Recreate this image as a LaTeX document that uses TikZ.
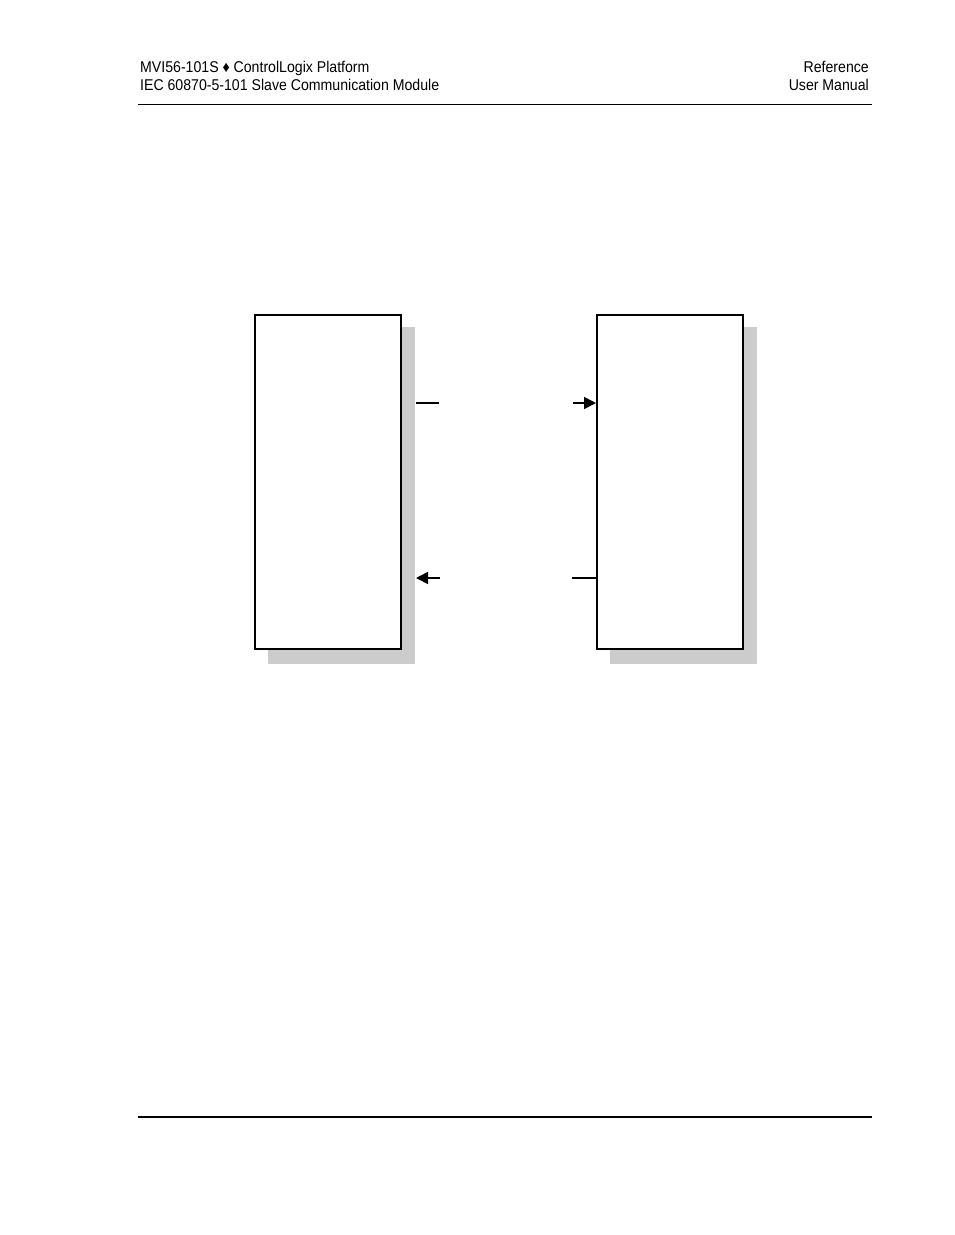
\documentclass[tikz,border=0pt]{standalone}
\usepackage{fontspec}
\setmainfont{Liberation Sans}[FakeStretch=0.905]
\usetikzlibrary{arrows.meta}
\definecolor{shade}{HTML}{CCCCCC}
\begin{document}
\begin{tikzpicture}[x=1pt,y=-1pt,
  hdr/.style={inner sep=0pt,font=\fontsize{15.6}{18}\selectfont},
  modbox/.style={draw=black,line width=2pt,fill=white,minimum width=146pt,minimum height=334pt,inner sep=0pt,anchor=north west},
  shadowbox/.style={fill=shade,draw=none,minimum width=147pt,minimum height=337pt,inner sep=0pt,anchor=north west},
  stub/.style={line width=1.6pt},
  tip/.style={line width=1.6pt,-{Triangle[length=12pt,width=12pt]}}]
\useasboundingbox (0,0) rectangle (954,1235);
% header
\node[hdr,anchor=base west] (h1) at (140,72) {MVI56-101S ♦ ControlLogix Platform};
\node[hdr,anchor=base west] (h2) at (140,90) {IEC 60870-5-101 Slave Communication Module};
\node[hdr,anchor=base east] (h3) at (869,72) {Reference};
\node[hdr,anchor=base east] (h4) at (869,90) {User Manual};
\coordinate (hl1) at (138,104.5);
\coordinate (hl2) at (872,104.5);
\draw[line width=1.2pt] (hl1) -- (hl2);
\coordinate (fl1) at (138,1117);
\coordinate (fl2) at (872,1117);
\draw[line width=1.2pt] (fl1) -- (fl2);
% boxes
\node[shadowbox] (ls) at (268,327) {};
\node[shadowbox] (rs) at (610,327) {};
\node[modbox] (L) at (254,314) {};
\node[modbox] (R) at (596,314) {};
% connectors
\coordinate (a1) at (416,403);
\coordinate (a2) at (439,403);
\coordinate (a3) at (573,403);
\draw[stub] (a1) -- (a2);
\draw[tip] (a3) -- (R.west |- a3);
\coordinate (b1) at (440,578);
\coordinate (b2) at (416,578);
\coordinate (b3) at (572,578);
\draw[tip] (b1) -- (b2);
\draw[stub] (b3) -- (R.west |- b3);
\end{tikzpicture}
\end{document}
